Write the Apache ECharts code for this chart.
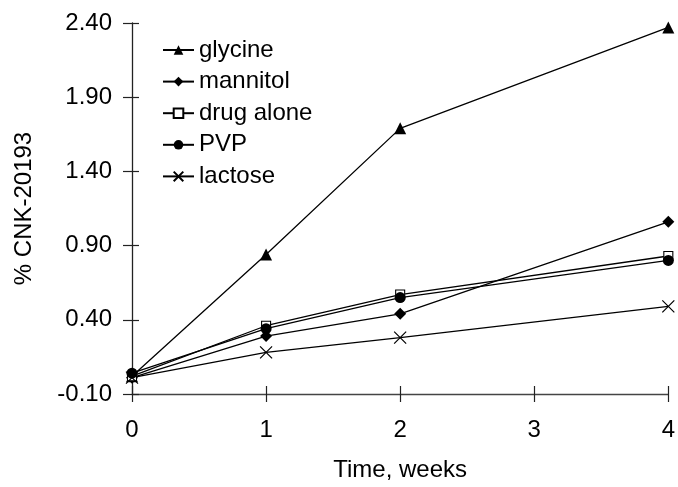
<!DOCTYPE html>
<html>
<head>
<meta charset="utf-8">
<script src="https://cdn.jsdelivr.net/npm/echarts@6/dist/echarts.min.js"></script>
<style>
  html, body { margin: 0; padding: 0; background: #fff; }
  #chart { width: 678px; height: 487px; }
</style>
</head>
<body>
<div id="chart"></div>
<script>
// Storage time points (weeks) and % CNK-20193 for each excipient blend
const weeks = [0, 1, 2, 4];
const glycine = [0.02, 0.84, 1.69, 2.37];
const mannitol = [0.01, 0.29, 0.44, 1.06];
const drugAlone = [0.02, 0.36, 0.57, 0.83];
const pvp = [0.04, 0.34, 0.55, 0.80];
const lactose = [0.01, 0.18, 0.28, 0.49];

const seriesNames = ['glycine', 'mannitol', 'drug alone', 'PVP', 'lactose'];
const yTicks = [-0.1, 0.4, 0.9, 1.4, 1.9, 2.4];
const xTicks = [0, 1, 2, 3, 4];

const FONT = '"Liberation Sans", Arial, Helvetica, sans-serif';
const INK = '#000';

function pairs(vals) {
  return weeks.map((w, i) => [w, vals[i]]);
}

function lineSeries(name, vals, symbol, size, fill, border) {
  return {
    name: name,
    type: 'line',
    data: pairs(vals),
    symbol: symbol,
    symbolSize: size,
    showAllSymbol: true,
    lineStyle: { color: INK, width: 1.3 },
    itemStyle: {
      color: fill,
      borderColor: INK,
      borderWidth: border
    },
    emphasis: { disabled: true },
    z: 3
  };
}

const chart = echarts.init(document.getElementById('chart'), null, { renderer: 'canvas' });

const sharedY = {
  type: 'value',
  min: -0.1,
  max: 2.4,
  position: 'left',
  splitLine: { show: false }
};
const sharedX = {
  type: 'value',
  min: 0,
  max: 4,
  interval: 1,
  position: 'bottom',
  splitLine: { show: false }
};

chart.setOption({
  animation: false,
  backgroundColor: '#fff',
  grid: { left: 132, right: 9, top: 23, bottom: 85, containLabel: false },
  legend: {
    orient: 'vertical',
    left: 157,
    top: 33,
    itemWidth: 31,
    itemHeight: 12,
    itemGap: 7.6,
    data: seriesNames,
    textStyle: { fontFamily: FONT, fontSize: 24, color: INK, padding: [0, 0, 0, 0] }
  },
  xAxis: [
    Object.assign({}, sharedX, {
      name: 'Time, weeks',
      nameLocation: 'middle',
      nameGap: 64,
      nameTextStyle: { fontFamily: FONT, fontSize: 24, color: INK },
      axisLine: { show: true, onZero: false, lineStyle: { color: '#444', width: 1.3 } },
      axisTick: { show: true, inside: false, length: 8, lineStyle: { color: '#222', width: 1.2 } },
      axisLabel: {
        fontFamily: FONT, fontSize: 24, color: INK, margin: 24,
        customValues: xTicks,
        formatter: v => String(v)
      }
    }),
    Object.assign({}, sharedX, {
      axisLine: { show: false, onZero: false },
      axisTick: { show: true, inside: true, length: 8, lineStyle: { color: '#222', width: 1.2 } },
      axisLabel: { show: false }
    })
  ],
  yAxis: [
    Object.assign({}, sharedY, {
      name: '% CNK-20193',
      nameLocation: 'middle',
      nameGap: 96,
      nameRotate: 90,
      nameTextStyle: { fontFamily: FONT, fontSize: 24, color: INK },
      axisLine: { show: true, onZero: false, lineStyle: { color: '#222', width: 1.3 } },
      axisTick: { show: true, inside: false, length: 9, customValues: yTicks, lineStyle: { color: '#222', width: 1.2 } },
      axisLabel: {
        fontFamily: FONT, fontSize: 24, color: INK, margin: 20,
        customValues: yTicks,
        formatter: v => v.toFixed(2)
      }
    }),
    Object.assign({}, sharedY, {
      axisLine: { show: false, onZero: false },
      axisTick: { show: true, inside: true, length: 7, customValues: yTicks, lineStyle: { color: '#222', width: 1.2 } },
      axisLabel: { show: false }
    })
  ],
  series: [
    lineSeries('glycine', glycine, 'triangle', 12, INK, 0),
    lineSeries('mannitol', mannitol, 'diamond', 12, INK, 0),
    lineSeries('drug alone', drugAlone, 'rect', 9, '#fff', 1.1),
    lineSeries('PVP', pvp, 'circle', 11, INK, 0),
    lineSeries('lactose', lactose, 'path://M0,0L10,10M10,0L0,10', 12, 'none', 1.2)
  ]
});
</script>
</body>
</html>
